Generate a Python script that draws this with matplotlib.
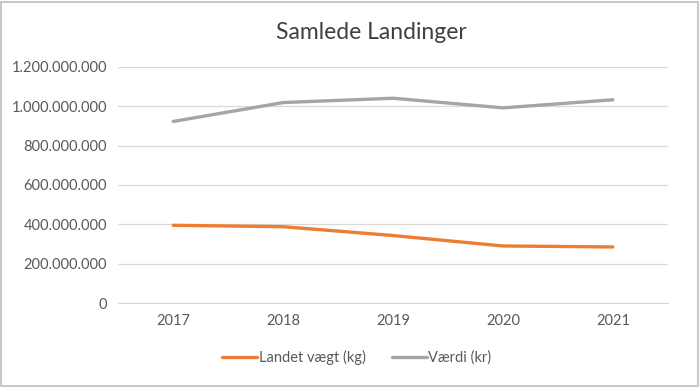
import matplotlib
matplotlib.use("Agg")
import matplotlib.pyplot as plt
import matplotlib.ticker as mticker

years = ["2017", "2018", "2019", "2020", "2021"]
landet_vaegt = [395e6, 388e6, 343e6, 290e6, 285e6]
vaerdi = [923e6, 1019e6, 1041e6, 992e6, 1033e6]
y_ticks = [0, 200e6, 400e6, 600e6, 800e6, 1000e6, 1200e6]

plt.rcParams['font.family'] = ['Lato', 'DejaVu Sans']

fig = plt.figure(figsize=(7, 3.87), dpi=100)
ax = fig.add_axes([0.169, 0.217, 0.785, 0.61])

x = range(len(years))
ax.plot(x, landet_vaegt, color='#ED7D31', linewidth=2.4, label='Landet vægt (kg)',
        solid_capstyle='round')
ax.plot(x, vaerdi, color='#A5A5A5', linewidth=2.4, label='Værdi (kr)',
        solid_capstyle='round')

ax.set_xlim(-0.5, len(years) - 0.5)
ax.set_ylim(0, 1200e6)
ax.set_yticks(y_ticks)
ax.yaxis.set_major_formatter(mticker.FuncFormatter(
    lambda v, p: f"{int(v):,}".replace(",", ".")))
ax.set_xticks(list(x))
ax.set_xticklabels(years)

ax.grid(axis='y', color='#D9D9D9', linewidth=0.9)
ax.set_axisbelow(True)
for s in ['top', 'right', 'left']:
    ax.spines[s].set_visible(False)
ax.spines['bottom'].set_color('#D9D9D9')
ax.tick_params(axis='both', length=0, colors='#595959', labelsize=10.5, pad=8)

fig.text(0.53, 0.915, 'Samlede Landinger', ha='center', va='center',
         fontsize=16.5, color='#404040')

fig.legend(loc='center', bbox_to_anchor=(0.51, 0.077), ncol=2, frameon=False,
           fontsize=10.5, labelcolor='#595959', handlelength=2.4,
           handletextpad=0.1, columnspacing=1.8)

border = plt.Rectangle((0.002, 0.003), 0.995, 0.993, transform=fig.transFigure,
                       fill=False, edgecolor='#BFBFBF', linewidth=1.2)
fig.add_artist(border)

fig.savefig('out.png', dpi=100)
